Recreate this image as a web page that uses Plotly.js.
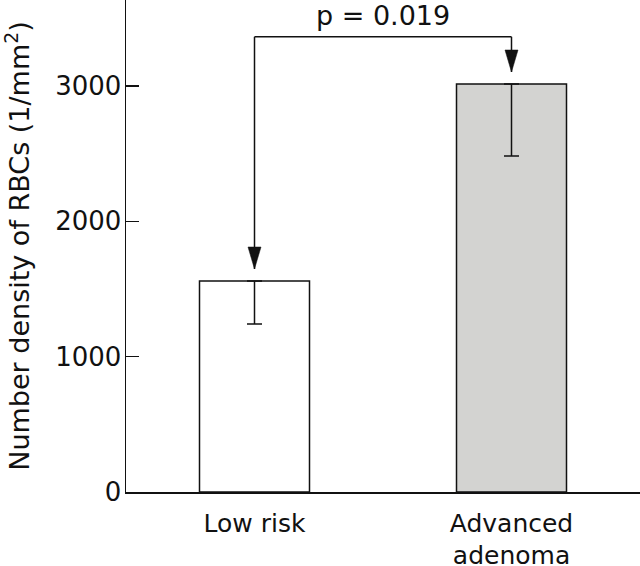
<!DOCTYPE html>
<html>
<head>
<meta charset="utf-8">
<script src="https://cdn.plot.ly/plotly-3.0.1.min.js"></script>
<style>html,body{margin:0;padding:0;background:#fff;}#chart{width:640px;height:566px;}</style>
</head>
<body>
<div id="chart"></div>
<script>
// ---- data ----
var categories = ["Low risk", "Advanced<br>adenoma"];
var meanDensity = [1559, 3015];
var errorMinus = [318, 532];
var errorPlus = [0, 0];
var barColors = ["#ffffff", "#d3d3d1"];
var yTickVals = [0, 1000, 2000, 3000];
var pValueText = "p = 0.019";
// comparison bracket (data units)
var bracketLevel = 3364;
var arrowTips = [1648, 3104];
var pLabelY = 3525;

var xIdx = categories.map(function (_, i) { return i; });
var FONT = "DejaVu Sans, sans-serif";
var LINE = "#111111";

var trace = {
  type: "bar",
  x: xIdx,
  y: meanDensity,
  width: 0.428,
  marker: { color: barColors, line: { color: LINE, width: 1.5 } },
  error_y: {
    type: "data", symmetric: false,
    array: errorPlus, arrayminus: errorMinus,
    color: LINE, thickness: 1.5, width: 7.5
  },
  hoverinfo: "none"
};

var shapes = [
  { type: "line", xref: "x", yref: "y", x0: 0, x1: 0, y0: arrowTips[0], y1: bracketLevel, line: { color: LINE, width: 1.5 } },
  { type: "line", xref: "x", yref: "y", x0: 0, x1: 1, y0: bracketLevel, y1: bracketLevel, line: { color: LINE, width: 1.5 } },
  { type: "line", xref: "x", yref: "y", x0: 1, x1: 1, y0: bracketLevel, y1: arrowTips[1], line: { color: LINE, width: 1.5 } }
];
arrowTips.forEach(function (tip, i) {
  shapes.push({
    type: "path", xref: "x", yref: "y",
    xsizemode: "pixel", ysizemode: "pixel",
    xanchor: i, yanchor: tip,
    path: "M-6.5,22 L6.5,22 L0,0 Z",
    fillcolor: LINE, line: { color: LINE, width: 0.5 }
  });
});

var layout = {
  width: 640, height: 566,
  margin: { l: 126, r: 0, t: 0, b: 74, pad: 0 },
  paper_bgcolor: "#ffffff", plot_bgcolor: "#ffffff",
  showlegend: false,
  font: { family: FONT, size: 25, color: "#111111" },
  xaxis: {
    range: [-0.5, 1.5], tickvals: xIdx, ticktext: categories,
    showline: true, linecolor: LINE, linewidth: 1.5,
    ticks: "", showgrid: false, zeroline: false,
    ticklabelstandoff: 8,
    tickfont: { family: FONT, size: 25, color: "#111111" },
    fixedrange: true
  },
  yaxis: {
    range: [0, 3636], tickvals: yTickVals,
    showline: true, linecolor: LINE, linewidth: 1.5,
    ticks: "inside", ticklen: 13, tickwidth: 1.5, tickcolor: LINE,
    showgrid: false, zeroline: false,
    ticklabelstandoff: -2,
    tickfont: { family: FONT, size: 26, color: "#111111" },
    title: { text: "Number density of RBCs (1/mm<sup>2</sup>)", font: { family: FONT, size: 27, color: "#111111" }, standoff: 18 },
    fixedrange: true
  },
  shapes: shapes,
  annotations: [{
    x: 0.5, y: pLabelY, xref: "x", yref: "y",
    text: pValueText, showarrow: false,
    xanchor: "center", yanchor: "middle",
    font: { family: FONT, size: 27, color: "#111111" }
  }]
};

Plotly.newPlot("chart", [trace], layout, { displayModeBar: false, staticPlot: true });
</script>
</body>
</html>
